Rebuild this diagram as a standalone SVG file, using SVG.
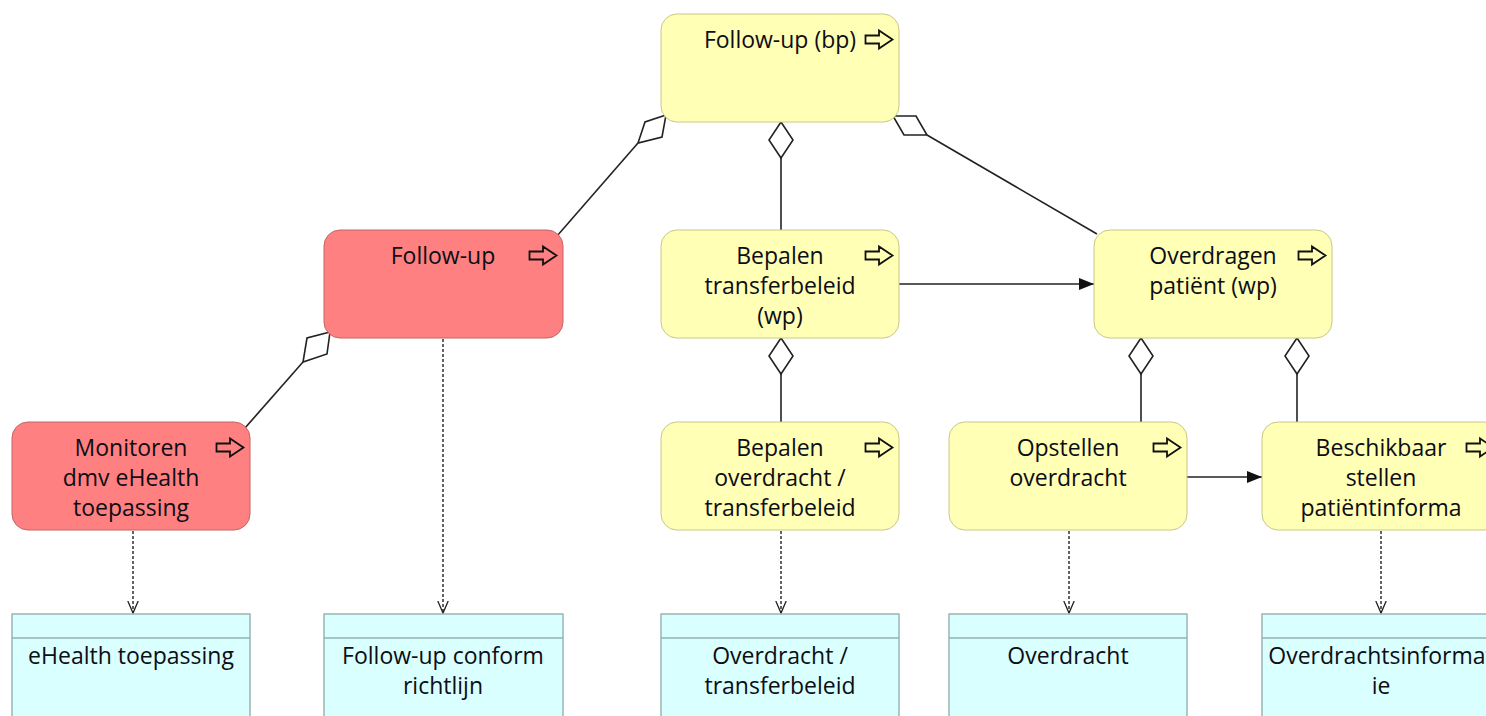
<svg xmlns="http://www.w3.org/2000/svg" xmlns:xlink="http://www.w3.org/1999/xlink" width="1486" height="716" viewBox="0 0 1486 716">
  <style>
    text { font-family: "Open Sans", "Noto Sans", "Liberation Sans", sans-serif; font-size: 23px; fill: #0d0d14; text-anchor: middle; }
    .proc { fill: #ffffb5; stroke: #c8c886; stroke-width: 1; }
    .app { fill: #ff8080; stroke: #c46464; stroke-width: 1; }
    .data { fill: #d9ffff; stroke: #93b0b0; stroke-width: 1.4; }
    .icon { fill: none; stroke: #111; stroke-width: 1.8; stroke-linejoin: miter; }
    .line { fill: none; stroke: #222; stroke-width: 1.6; }
    .dash { fill: none; stroke: #222; stroke-width: 1.4; stroke-dasharray: 3 2; }
    .dia { fill: #fff; stroke: #222; stroke-width: 1.6; stroke-linejoin: miter; }
  </style>
  <defs>
    <!-- business process arrow glyph -->
    <path id="procIcon" class="icon" d="M0.5,5.5 H14 V0.5 L27.5,9.5 L14,18.5 V13.5 H0.5 Z"/>
    <marker id="solidHead" markerWidth="16" markerHeight="14" refX="15" refY="7" orient="auto" markerUnits="userSpaceOnUse">
      <path d="M0,1 L15,7 L0,13 Z" fill="#111"/>
    </marker>
    <marker id="openHead" markerWidth="14" markerHeight="14" refX="12" refY="6" orient="auto" markerUnits="userSpaceOnUse">
      <path d="M0,0.8 L12,6 L0,11.2" fill="none" stroke="#222" stroke-width="1.3"/>
    </marker>
  </defs>

  <g id="connectors">
    <!-- composition lines with diamonds at the parent end -->
    <line class="line" x1="638" y1="143" x2="557" y2="236"/>
    <polygon class="dia" points="666,115 645,122 638,143 662,137"/>
    <line class="line" x1="781" y1="158" x2="781" y2="230"/>
    <polygon class="dia" points="781,122 793,140 781,158 769,140"/>
    <line class="line" x1="927" y1="135" x2="1097" y2="234"/>
    <polygon class="dia" points="893,116 916,116 927,135 904,135"/>
    <line class="line" x1="303" y1="362" x2="245" y2="428"/>
    <polygon class="dia" points="330,332 307,338 303,362 327,354"/>
    <line class="line" x1="781" y1="374" x2="781" y2="422"/>
    <polygon class="dia" points="781,338 793,356 781,374 769,356"/>
    <line class="line" x1="1141" y1="374" x2="1141" y2="422"/>
    <polygon class="dia" points="1141,338 1153,356 1141,374 1129,356"/>
    <line class="line" x1="1297" y1="374" x2="1297" y2="422"/>
    <polygon class="dia" points="1297,338 1309,356 1297,374 1285,356"/>
    <!-- triggering -->
    <line class="line" x1="899" y1="284" x2="1094" y2="284" marker-end="url(#solidHead)"/>
    <line class="line" x1="1187" y1="477" x2="1262" y2="477" marker-end="url(#solidHead)"/>
    <!-- access -->
    <line class="dash" x1="133" y1="531" x2="133" y2="613" marker-end="url(#openHead)"/>
    <line class="dash" x1="443" y1="339" x2="443" y2="613" marker-end="url(#openHead)"/>
    <line class="dash" x1="781" y1="531" x2="781" y2="613" marker-end="url(#openHead)"/>
    <line class="dash" x1="1069" y1="531" x2="1069" y2="613" marker-end="url(#openHead)"/>
    <line class="dash" x1="1381" y1="531" x2="1381" y2="613" marker-end="url(#openHead)"/>
  </g>

  <g id="follow-up-bp">
    <rect class="proc" x="661" y="14" width="238" height="108" rx="16"/>
    <text x="780" y="48">Follow-up (bp)</text>
    <use xlink:href="#procIcon" x="865" y="30"/>
  </g>

  <g id="follow-up">
    <rect class="app" x="324" y="230" width="239" height="108" rx="16"/>
    <text x="443" y="264">Follow-up</text>
    <use xlink:href="#procIcon" x="529" y="246"/>
  </g>

  <g id="bepalen-transferbeleid">
    <rect class="proc" x="661" y="230" width="238" height="108" rx="16"/>
    <text x="780" y="264">Bepalen</text>
    <text x="780" y="294">transferbeleid</text>
    <text x="780" y="324">(wp)</text>
    <use xlink:href="#procIcon" x="865" y="246"/>
  </g>

  <g id="overdragen-patient">
    <rect class="proc" x="1094" y="230" width="238" height="108" rx="16"/>
    <text x="1213" y="264">Overdragen</text>
    <text x="1213" y="294">patiënt (wp)</text>
    <use xlink:href="#procIcon" x="1298" y="246"/>
  </g>

  <g id="monitoren">
    <rect class="app" x="12" y="422" width="238" height="108" rx="16"/>
    <text x="131" y="456">Monitoren</text>
    <text x="131" y="486">dmv eHealth</text>
    <text x="131" y="516">toepassing</text>
    <use xlink:href="#procIcon" x="216" y="438"/>
  </g>

  <g id="bepalen-overdracht">
    <rect class="proc" x="661" y="422" width="238" height="108" rx="16"/>
    <text x="780" y="456">Bepalen</text>
    <text x="780" y="486">overdracht /</text>
    <text x="780" y="516">transferbeleid</text>
    <use xlink:href="#procIcon" x="865" y="438"/>
  </g>

  <g id="opstellen-overdracht">
    <rect class="proc" x="949" y="422" width="238" height="108" rx="16"/>
    <text x="1068" y="456">Opstellen</text>
    <text x="1068" y="486">overdracht</text>
    <use xlink:href="#procIcon" x="1153" y="438"/>
  </g>

  <g id="beschikbaar-stellen">
    <rect class="proc" x="1262" y="422" width="238" height="108" rx="16"/>
    <text x="1381" y="456">Beschikbaar</text>
    <text x="1381" y="486">stellen</text>
    <text x="1381" y="516">patiëntinforma</text>
    <use xlink:href="#procIcon" x="1466" y="438"/>
  </g>

  <g id="ehealth-toepassing">
    <rect class="data" x="12" y="614" width="238" height="120"/>
    <line class="data" x1="12" y1="638" x2="250" y2="638"/>
    <text x="131" y="664">eHealth toepassing</text>
  </g>

  <g id="follow-up-conform-richtlijn">
    <rect class="data" x="324" y="614" width="239" height="120"/>
    <line class="data" x1="324" y1="638" x2="563" y2="638"/>
    <text x="443" y="664">Follow-up conform</text>
    <text x="443" y="694">richtlijn</text>
  </g>

  <g id="overdracht-transferbeleid">
    <rect class="data" x="661" y="614" width="238" height="120"/>
    <line class="data" x1="661" y1="638" x2="899" y2="638"/>
    <text x="780" y="664">Overdracht /</text>
    <text x="780" y="694">transferbeleid</text>
  </g>

  <g id="overdracht">
    <rect class="data" x="949" y="614" width="238" height="120"/>
    <line class="data" x1="949" y1="638" x2="1187" y2="638"/>
    <text x="1068" y="664">Overdracht</text>
  </g>

  <g id="overdrachtsinformatie">
    <rect class="data" x="1262" y="614" width="238" height="120"/>
    <line class="data" x1="1262" y1="638" x2="1500" y2="638"/>
    <text x="1381" y="664">Overdrachtsinformat</text>
    <text x="1381" y="694">ie</text>
  </g>
</svg>
